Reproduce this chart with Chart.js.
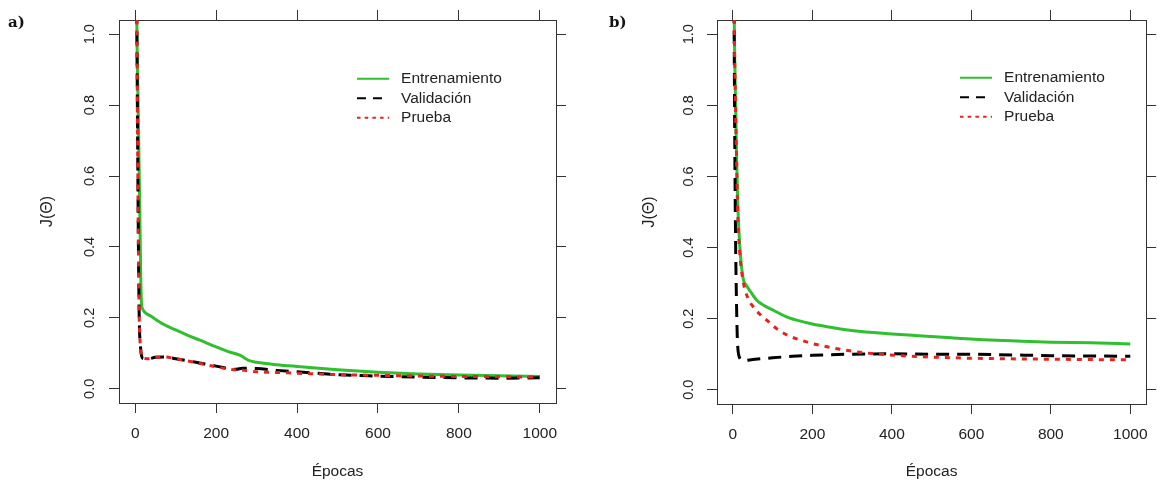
<!DOCTYPE html>
<html>
<head>
<meta charset="utf-8">
<script src="https://cdn.jsdelivr.net/npm/chart.js@4"></script>
<style>
html,body{margin:0;padding:0;background:#fff;}
#wrap{position:relative;width:1159px;height:481px;overflow:hidden;}
canvas{position:absolute;top:0;}
#ca{left:0;width:580px;height:481px;}
#cb{left:580px;width:579px;height:481px;}
.tag{position:absolute;top:15px;font:bold 15px "DejaVu Serif",serif;color:#111;line-height:1;}
</style>
</head>
<body>
<div id="wrap">
<canvas id="ca" width="580" height="481"></canvas>
<canvas id="cb" width="579" height="481"></canvas>
<div class="tag" style="left:8px">a)</div>
<div class="tag" style="left:609px">b)</div>
</div>
<script>
// ---------- data ----------
const seriesNames = ['Entrenamiento', 'Validación', 'Prueba'];
const xTickValues = [0, 200, 400, 600, 800, 1000];
const yTickValues = [0, 0.2, 0.4, 0.6, 0.8, 1.0];

// panel a
const epochsTrainA = [1, 4, 8, 12, 14, 16, 18, 22, 40, 70, 100, 130, 160, 200, 230, 260, 270, 280, 300, 350, 400, 500, 600, 700, 800, 900, 1000];
const trainA       = [1.6, 1.05, 0.75, 0.45, 0.30, 0.235, 0.226, 0.218, 0.204, 0.182, 0.166, 0.151, 0.137, 0.118, 0.105, 0.094, 0.087, 0.080, 0.075, 0.068, 0.063, 0.054, 0.047, 0.042, 0.039, 0.037, 0.035];
const epochsValA   = [1, 4, 6, 8, 10, 13, 16, 20, 30, 50, 70, 100, 150, 200, 250, 265, 300, 350, 400, 450, 500, 600, 700, 800, 900, 1000];
const valA         = [1.6, 1.05, 0.7, 0.4, 0.2, 0.12, 0.092, 0.085, 0.084, 0.089, 0.090, 0.085, 0.075, 0.064, 0.055, 0.058, 0.057, 0.052, 0.048, 0.044, 0.040, 0.036, 0.033, 0.031, 0.030, 0.031];
const epochsTestA  = [1, 4, 6, 8, 10, 13, 16, 20, 30, 50, 70, 100, 150, 200, 250, 270, 300, 350, 400, 500, 600, 700, 800, 900, 1000];
const testA        = [1.6, 1.05, 0.7, 0.4, 0.2, 0.12, 0.092, 0.086, 0.085, 0.089, 0.090, 0.085, 0.074, 0.062, 0.053, 0.052, 0.048, 0.046, 0.044, 0.040, 0.038, 0.036, 0.035, 0.034, 0.033];

// panel b
const epochsTrainB = [1, 3, 6, 9, 12, 17, 25, 35, 45, 60, 80, 103, 140, 200, 250, 303, 400, 466, 550, 630, 700, 800, 900, 1000];
const trainB       = [1.6, 1.1, 0.85, 0.67, 0.53, 0.41, 0.318, 0.292, 0.275, 0.252, 0.236, 0.223, 0.203, 0.185, 0.175, 0.166, 0.157, 0.152, 0.146, 0.141, 0.138, 0.134, 0.132, 0.129];
const epochsValB   = [1, 3, 5, 7, 9, 11, 13, 17, 22, 28, 50, 100, 150, 200, 300, 400, 500, 600, 700, 800, 900, 1000];
const valB         = [1.6, 1.05, 0.65, 0.4, 0.25, 0.15, 0.11, 0.09, 0.084, 0.082, 0.085, 0.090, 0.094, 0.097, 0.100, 0.101, 0.100, 0.100, 0.098, 0.096, 0.095, 0.094];
const epochsTestB  = [1, 3, 6, 9, 12, 17, 25, 37, 50, 70, 86, 110, 140, 170, 200, 250, 303, 350, 425, 500, 589, 700, 800, 900, 1000];
const testB        = [1.6, 1.1, 0.84, 0.66, 0.5, 0.39, 0.31, 0.26, 0.235, 0.21, 0.195, 0.172, 0.152, 0.14, 0.13, 0.118, 0.108, 0.102, 0.096, 0.092, 0.089, 0.087, 0.086, 0.085, 0.084];

// ---------- style ----------
const GREEN = '#2fbf2f', BLACK = '#000000', RED = '#e8221f';
const AXIS = '#333333', TXT = '#222222';
const FAMILY = '"Liberation Sans", Arial, sans-serif';
Chart.defaults.font.family = FAMILY;
Chart.defaults.color = TXT;

const pts = (xs, ys) => xs.map((x, i) => ({x: x, y: ys[i]}));

const legendPlace = {
  id: 'legendPlace',
  afterLayout(chart, args, opts) {
    const lg = chart.legend;
    if (!lg) return;
    const ca = chart.chartArea;
    lg.left = ca.left + opts.dx; lg.right = lg.left + lg.width;
    lg.top = ca.top + opts.dy; lg.bottom = lg.top + lg.height;
  }
};

function makeChart(id, series, L) {
  const setTicks = vals => s => { s.ticks = vals.map(v => ({value: v})); };
  const common = () => ({
    border: {display: true, color: AXIS, width: 1},
    grid: {display: true, drawOnChartArea: false, drawTicks: true, tickLength: 10, color: AXIS, lineWidth: 1}
  });
  const legendDash = [[], [9, 7], [3.5, 4.2]];
  const line = (i, data, color, dash, order) => ({
    label: seriesNames[i], data: data, borderColor: color, backgroundColor: color,
    borderWidth: 3, borderDash: dash, pointRadius: 0, pointHoverRadius: 0,
    cubicInterpolationMode: 'monotone', fill: false, order: order, clip: 0,
    borderJoinStyle: 'round'
  });
  return new Chart(document.getElementById(id), {
    type: 'line',
    data: {
      datasets: [
        line(0, series[0], GREEN, [], 3),
        line(1, series[1], BLACK, [13, 8], 2),
        line(2, series[2], RED, [5, 6], 1)
      ]
    },
    plugins: [legendPlace],
    options: {
      responsive: false, animation: false, devicePixelRatio: 1,
      layout: {padding: 0, autoPadding: false},
      events: [],
      scales: {
        x: Object.assign(common(), {
          type: 'linear', position: 'bottom', min: -40, max: 1040, bounds: 'data',
          afterBuildTicks: setTicks(xTickValues), afterFit: s => { s.height = L.bottomH; },
          ticks: {autoSkip: false, maxRotation: 0, minRotation: 0, padding: 11, color: TXT,
                  font: {size: 15.5}, callback: v => String(v)},
          title: {display: true, text: 'Épocas', color: TXT, font: {size: 15.5}, padding: {top: 0, bottom: 0}}
        }),
        y: Object.assign(common(), {
          type: 'linear', position: 'left', min: -0.04, max: 1.04, bounds: 'data',
          afterBuildTicks: setTicks(yTickValues), afterFit: s => { s.width = L.leftW; },
          ticks: {autoSkip: false, minRotation: 90, maxRotation: 90, crossAlign: 'center', padding: L.yPad,
                  color: TXT, font: {size: 14.5}, callback: v => v.toFixed(1)},
          title: {display: true, text: 'J(Θ)', color: TXT, font: {size: 16}, padding: {top: L.yTitlePad, bottom: 0}}
        }),
        x2: Object.assign(common(), {
          type: 'linear', position: 'top', min: -40, max: 1040, bounds: 'data',
          afterBuildTicks: setTicks(xTickValues), afterFit: s => { s.height = L.topH; },
          ticks: {display: false}
        }),
        y2: Object.assign(common(), {
          type: 'linear', position: 'right', min: -0.04, max: 1.04, bounds: 'data',
          afterBuildTicks: setTicks(yTickValues), afterFit: s => { s.width = L.rightW; },
          ticks: {display: false}
        })
      },
      plugins: {
        tooltip: {enabled: false},
        legendPlace: {dx: L.legDx, dy: L.legDy},
        legend: {
          position: 'chartArea', align: 'start',
          labels: {
            usePointStyle: true, pointStyle: 'line', pointStyleWidth: 32, padding: 4,
            color: TXT, font: {size: 15.5},
            sort: (a, b) => a.datasetIndex - b.datasetIndex,
            generateLabels: chart => Chart.defaults.plugins.legend.labels.generateLabels(chart).map(l => {
              l.text = ' ' + l.text;
              l.lineWidth = 2;
              l.lineDash = legendDash[l.datasetIndex];
              l.lineCap = 'butt';
              l.pointStyle = 'line';
              return l;
            })
          }
        }
      }
    }
  });
}

makeChart('ca', [pts(epochsTrainA, trainA), pts(epochsValA, valA), pts(epochsTestA, testA)],
  {leftW: 119, rightW: 24, topH: 20, bottomH: 78, yPad: 9, yTitlePad: 38, legDx: 234, legDy: 47});
makeChart('cb', [pts(epochsTrainB, trainB), pts(epochsValB, valB), pts(epochsTestB, testB)],
  {leftW: 137, rightW: 2, topH: 20, bottomH: 77, yPad: 8, yTitlePad: 60, legDx: 239, legDy: 46});
</script>
</body>
</html>
